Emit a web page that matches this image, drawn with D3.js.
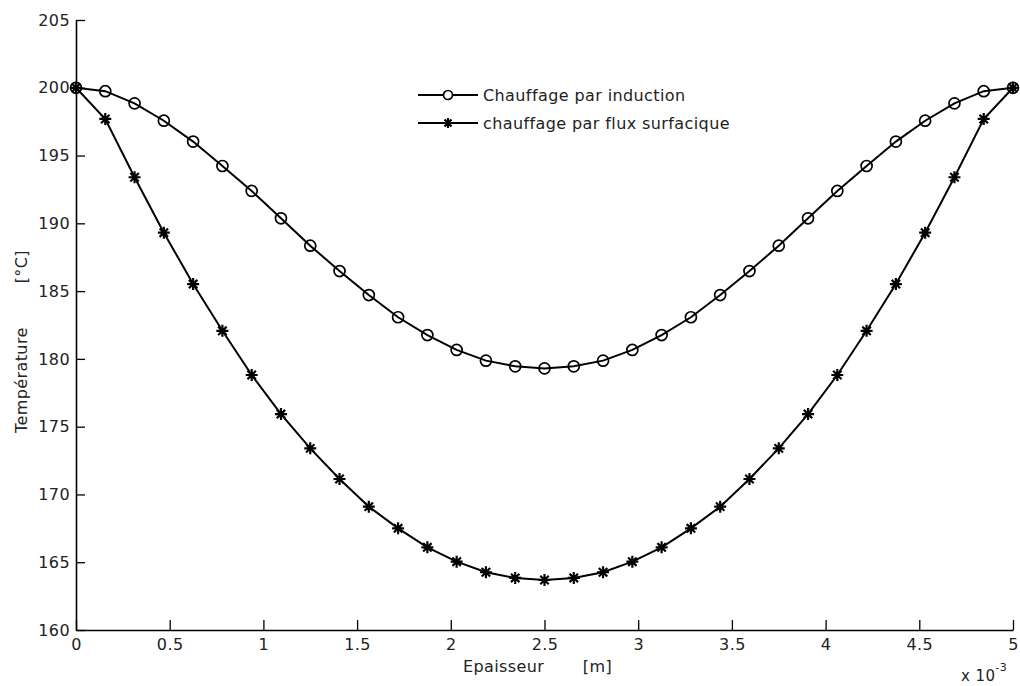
<!DOCTYPE html>
<html>
<head>
<meta charset="utf-8">
<script src="https://cdn.jsdelivr.net/npm/d3@7"></script>
<style>
  body { margin: 0; background: #fff; }
  text { font-family: "DejaVu Sans", "Liberation Sans", Arial, sans-serif; fill: #222; white-space: pre; letter-spacing: 0.4px; }
</style>
</head>
<body>
<svg id="chart" width="1020" height="686"></svg>
<script>
// epaisseur en mm (x 10^-3 m)
const epaisseur = [0, 0.15625, 0.3125, 0.46875, 0.625, 0.78125, 0.9375, 1.09375, 1.25,
  1.40625, 1.5625, 1.71875, 1.875, 2.03125, 2.1875, 2.34375, 2.5, 2.65625, 2.8125,
  2.96875, 3.125, 3.28125, 3.4375, 3.59375, 3.75, 3.90625, 4.0625, 4.21875, 4.375,
  4.53125, 4.6875, 4.84375, 5];

const induction = [200, 199.75, 198.85, 197.57, 196.03, 194.23, 192.39, 190.37, 188.35,
  186.48, 184.71, 183.07, 181.76, 180.66, 179.87, 179.45, 179.3, 179.45, 179.87,
  180.66, 181.76, 183.07, 184.71, 186.48, 188.35, 190.37, 192.39, 194.23, 196.03,
  197.57, 198.85, 199.75, 200];

const fluxSurf = [200, 197.7, 193.4, 189.31, 185.52, 182.07, 178.81, 175.93, 173.4,
  171.14, 169.1, 167.5, 166.1, 165.04, 164.26, 163.84, 163.69, 163.84, 164.26,
  165.04, 166.1, 167.5, 169.1, 171.14, 173.4, 175.93, 178.81, 182.07, 185.52,
  189.31, 193.4, 197.7, 200];

const seriesNames = ["Chauffage par induction", "chauffage par flux surfacique"];
const xTicks = [0, 0.5, 1, 1.5, 2, 2.5, 3, 3.5, 4, 4.5, 5];
const yTicks = [160, 165, 170, 175, 180, 185, 190, 195, 200, 205];

let svg = d3.select("#chart");

let x = d3.scaleLinear().domain([0, 5]).range([76, 1013]);
let y = d3.scaleLinear().domain([160, 205]).range([630, 20]);

// axes (ticks vers l'interieur, style matlab)
svg.append("g")
  .attr("transform", "translate(0,630)")
  .call(d3.axisBottom(x).tickValues(xTicks).tickFormat(d => String(d))
    .tickSizeInner(-10).tickSizeOuter(0).tickPadding(9));
svg.append("g")
  .attr("transform", "translate(76,0)")
  .call(d3.axisLeft(y).tickValues(yTicks).tickFormat(d => String(d))
    .tickSizeInner(-9).tickSizeOuter(0).tickPadding(6));

svg.selectAll(".domain").attr("stroke", "#000").attr("stroke-width", 1.6);
svg.selectAll(".tick line").attr("stroke", "#000").attr("stroke-width", 1.3);
svg.selectAll(".tick text").style("font-size", "16px").attr("fill", "#222");

// labels
svg.append("text")
  .attr("x", 463).attr("y", 672)
  .style("font-size", "16px")
  .text("Epaisseur       [m]");

svg.append("text")
  .attr("transform", "translate(27,433) rotate(-90)")
  .style("font-size", "16px")
  .text("Température        [°C]");

let mult = svg.append("text")
  .attr("x", 961).attr("y", 681)
  .style("font-size", "15px");
mult.append("tspan").text("x 10");
mult.append("tspan").attr("dy", -10).style("font-size", "11px").text("-3");

let line = d3.line()
  .x((d, i) => x(epaisseur[i]))
  .y(d => y(d));

function starPath(s) {
  let h = s * 0.7;
  return `M${-s},0L${s},0M0,${-s}L0,${s}M${-h},${-h}L${h},${h}M${-h},${h}L${h},${-h}`;
}

// courbe 1 : induction
svg.append("path")
  .datum(induction)
  .attr("d", line)
  .attr("fill", "none")
  .attr("stroke", "#000")
  .attr("stroke-width", 2);

svg.append("g").selectAll("circle")
  .data(induction)
  .enter()
  .append("circle")
  .attr("cx", (d, i) => x(epaisseur[i]))
  .attr("cy", d => y(d))
  .attr("r", 5.5)
  .attr("fill", "none")
  .attr("stroke", "#000")
  .attr("stroke-width", 1.7);

// courbe 2 : flux surfacique
svg.append("path")
  .datum(fluxSurf)
  .attr("d", line)
  .attr("fill", "none")
  .attr("stroke", "#000")
  .attr("stroke-width", 2);

svg.append("g").selectAll("path")
  .data(fluxSurf)
  .enter()
  .append("path")
  .attr("transform", (d, i) => "translate(" + x(epaisseur[i]) + "," + y(d) + ")")
  .attr("d", starPath(6))
  .attr("stroke", "#000")
  .attr("stroke-width", 2.2);

// legende
let legend = svg.append("g").attr("transform", "translate(418,95)");
seriesNames.forEach((name, i) => {
  let g = legend.append("g").attr("transform", "translate(0," + i * 28 + ")");
  g.append("line").attr("x1", 0).attr("x2", 60).attr("y1", 0).attr("y2", 0)
    .attr("stroke", "#000").attr("stroke-width", 2);
  if (i == 0) {
    g.append("circle").attr("cx", 30).attr("cy", 0).attr("r", 4.5)
      .attr("fill", "#fff").attr("stroke", "#000").attr("stroke-width", 1.7);
  } else {
    g.append("path").attr("transform", "translate(30,0)").attr("d", starPath(5))
      .attr("stroke", "#000").attr("stroke-width", 2.2);
  }
  g.append("text").attr("x", 65).attr("y", 6)
    .style("font-size", "16px")
    .text(name);
});
</script>
</body>
</html>
